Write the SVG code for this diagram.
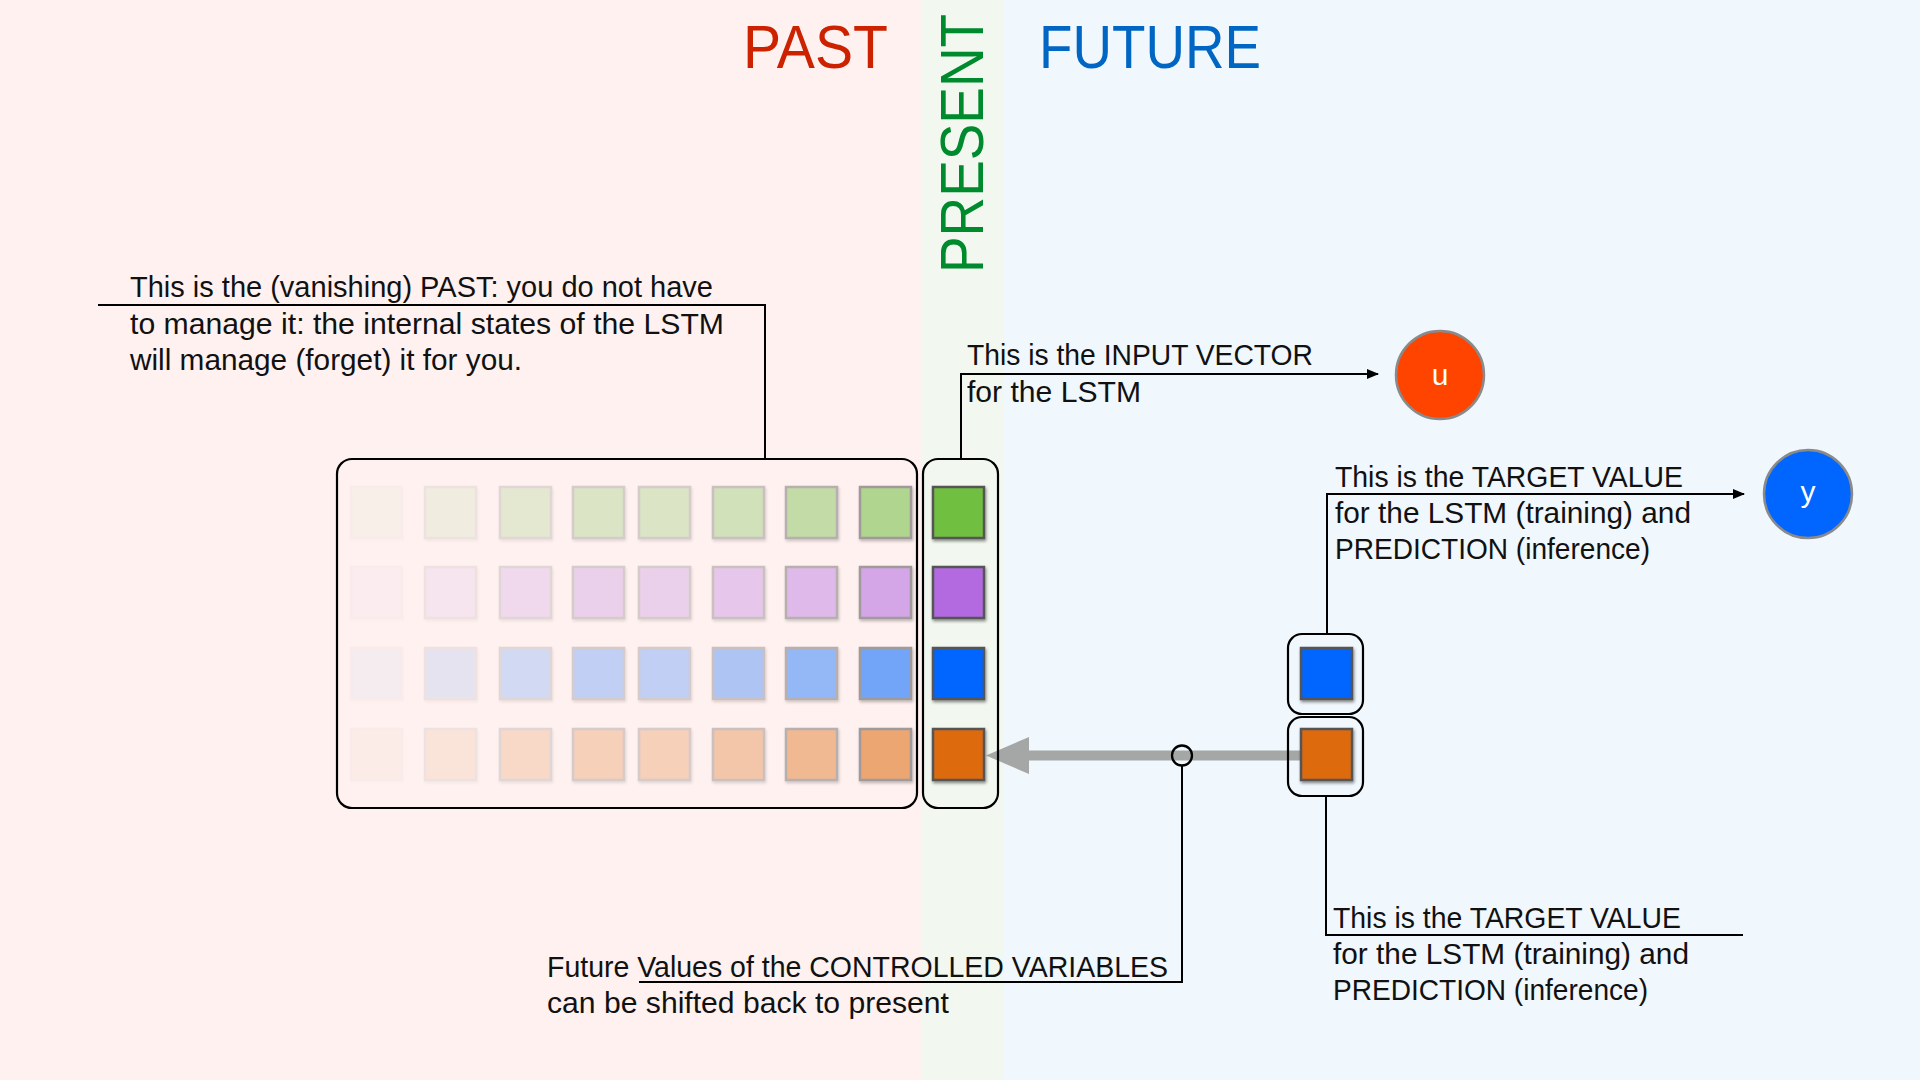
<svg xmlns="http://www.w3.org/2000/svg" width="1920" height="1080" viewBox="0 0 1920 1080">
  <defs>
    <style>
      .lbl { font-family: "Liberation Sans", Arial, sans-serif; font-size: 29px; fill: #111; }
      .title { font-family: "Liberation Sans", Arial, sans-serif; font-size: 61px; }
      .conn { fill: none; stroke: #000; stroke-width: 2; }
      .box { fill: none; stroke: #000; stroke-width: 2.2; }
      .sq { stroke: #555; stroke-width: 2.5; filter: url(#sh); }
      .g { fill: #70bf40; } .p { fill: #b36be0; } .b { fill: #0066ff; } .o { fill: #dd6a10; }
      .circ { stroke: #8a8a8a; stroke-width: 2.5; }
      .cl { font-family: "Liberation Sans", Arial, sans-serif; font-size: 30px; fill: #fff; text-anchor: middle; }
    </style>
    <filter id="sh" x="-20%" y="-20%" width="150%" height="150%">
      <feDropShadow dx="1" dy="2" stdDeviation="1.5" flood-color="#000" flood-opacity="0.45"/>
    </filter>
    <marker id="ah" markerUnits="userSpaceOnUse" markerWidth="12" markerHeight="10" refX="11" refY="5" orient="auto">
      <path d="M0,0 L12,5 L0,10 z" fill="#000"/>
    </marker>
    <g id="col">
      <rect class="sq g" x="0" y="0" width="51" height="51"/>
      <rect class="sq p" x="0" y="80" width="51" height="51"/>
      <rect class="sq b" x="0" y="161" width="51" height="51"/>
      <rect class="sq o" x="0" y="242" width="51" height="51"/>
    </g>
  </defs>

  <!-- backgrounds -->
  <rect x="0" y="0" width="921" height="1080" fill="#fef1f0"/>
  <rect x="921" y="0" width="83" height="1080" fill="#f2f8f0"/>
  <rect x="1004" y="0" width="916" height="1080" fill="#f0f7fd"/>

  <!-- titles -->
  <text class="title" x="743" y="68" fill="#cc2200" textLength="145" lengthAdjust="spacingAndGlyphs">PAST</text>
  <text class="title" x="1039" y="68" fill="#0066c4" textLength="222" lengthAdjust="spacingAndGlyphs">FUTURE</text>
  <text class="title" transform="translate(983,273) rotate(-90) scale(1,1.11)" x="0" y="0" fill="#008a2e" style="font-size:55px" textLength="259" lengthAdjust="spacingAndGlyphs">PRESENT</text>

  <!-- connectors -->
  <g id="connectors">
    <polyline class="conn" points="765,459 765,305 98,305"/>
    <polyline class="conn" points="961,459 961,374 1378,374" marker-end="url(#ah)"/>
    <polyline class="conn" points="1327,634 1327,494 1744,494" marker-end="url(#ah)"/>
    <polyline class="conn" points="1326,796 1326,935 1743,935"/>
    <path d="M1303,750.5 L1029,750.5 L1029,737 L986,755.5 L1029,774 L1029,760.5 L1303,760.5 z" fill="#a4a7a5"/>
    <circle cx="1182" cy="755.5" r="10" fill="none" stroke="#000" stroke-width="2.3"/>
    <polyline class="conn" points="1182,765.5 1182,982 639,982"/>
  </g>

  <!-- past grid -->
  <g id="past-grid">
    <rect class="box" x="337" y="459" width="580" height="349" rx="15"/>
    <use href="#col" x="351" y="487" opacity="0.03"/>
    <use href="#col" x="425" y="487" opacity="0.09"/>
    <use href="#col" x="500" y="487" opacity="0.17"/>
    <use href="#col" x="573" y="487" opacity="0.24"/>
    <use href="#col" x="639" y="487" opacity="0.24"/>
    <use href="#col" x="713" y="487" opacity="0.31"/>
    <use href="#col" x="786" y="487" opacity="0.41"/>
    <use href="#col" x="860" y="487" opacity="0.55"/>
  </g>

  <!-- present column -->
  <g id="present-column">
    <rect class="box" x="923" y="459" width="75" height="349" rx="15"/>
    <use href="#col" x="933" y="487"/>
  </g>

  <!-- future target boxes -->
  <g id="future-target">
    <rect class="box" x="1288" y="634" width="75" height="80" rx="14"/>
    <rect class="sq b" x="1301" y="648" width="51" height="51"/>
  </g>
  <g id="future-controlled">
    <rect class="box" x="1288" y="717" width="75" height="79" rx="14"/>
    <rect class="sq o" x="1301" y="729" width="51" height="51"/>
  </g>

  <!-- circles -->
  <g id="node-u">
    <circle class="circ" cx="1440" cy="375" r="44" fill="#ff4400"/>
    <text class="cl" x="1440" y="385">u</text>
  </g>
  <g id="node-y">
    <circle class="circ" cx="1808" cy="494" r="44" fill="#0066ff"/>
    <text class="cl" x="1808" y="502">y</text>
  </g>

  <!-- labels -->
  <g id="label-past">
    <text class="lbl" x="130" y="297" textLength="583" lengthAdjust="spacingAndGlyphs">This is the (vanishing) PAST: you do not have</text>
    <text class="lbl" x="130" y="334" textLength="594" lengthAdjust="spacingAndGlyphs">to manage it: the internal states of the LSTM</text>
    <text class="lbl" x="130" y="370" textLength="392" lengthAdjust="spacingAndGlyphs">will manage (forget) it for you.</text>
  </g>
  <g id="label-input">
    <text class="lbl" x="967" y="365" textLength="346" lengthAdjust="spacingAndGlyphs">This is the INPUT VECTOR</text>
    <text class="lbl" x="967" y="402" textLength="174" lengthAdjust="spacingAndGlyphs">for the LSTM</text>
  </g>
  <g id="label-target-top">
    <text class="lbl" x="1335" y="487" textLength="348" lengthAdjust="spacingAndGlyphs">This is the TARGET VALUE</text>
    <text class="lbl" x="1335" y="523" textLength="356" lengthAdjust="spacingAndGlyphs">for the LSTM (training) and</text>
    <text class="lbl" x="1335" y="559" textLength="315" lengthAdjust="spacingAndGlyphs">PREDICTION (inference)</text>
  </g>
  <g id="label-target-bottom">
    <text class="lbl" x="1333" y="928" textLength="348" lengthAdjust="spacingAndGlyphs">This is the TARGET VALUE</text>
    <text class="lbl" x="1333" y="964" textLength="356" lengthAdjust="spacingAndGlyphs">for the LSTM (training) and</text>
    <text class="lbl" x="1333" y="1000" textLength="315" lengthAdjust="spacingAndGlyphs">PREDICTION (inference)</text>
  </g>
  <g id="label-controlled">
    <text class="lbl" x="547" y="977" textLength="621" lengthAdjust="spacingAndGlyphs">Future Values of the CONTROLLED VARIABLES</text>
    <text class="lbl" x="547" y="1013" textLength="402" lengthAdjust="spacingAndGlyphs">can be shifted back to present</text>
  </g>
</svg>
